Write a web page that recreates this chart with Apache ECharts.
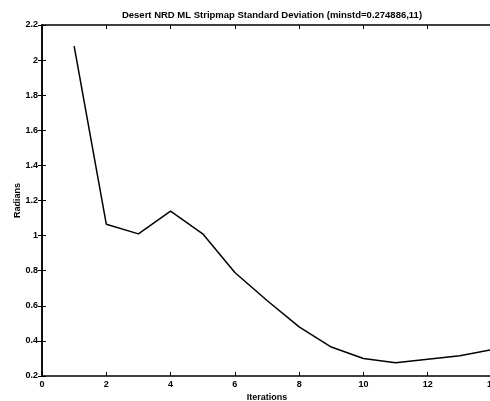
<!DOCTYPE html>
<html><head><meta charset="utf-8">
<script src="https://cdn.jsdelivr.net/npm/echarts@6/dist/echarts.min.js"></script>
<style>html,body{margin:0;padding:0;background:#fff}#c{width:490px;height:401px}</style>
</head><body><div id="c"></div>
<script>
const iterations = [1,2,3,4,5,6,7,8,9,10,11,12,13,14];
const stdRadians = [2.08,1.065,1.01,1.14,1.01,0.79,0.63,0.48,0.365,0.30,0.275,0.295,0.315,0.35];
const xTicks = [0,2,4,6,8,10,12,14];
const yTicks = [0.2,0.4,0.6,0.8,1,1.2,1.4,1.6,1.8,2,2.2];
const titleText = 'Desert NRD ML Stripmap Standard Deviation (minstd=0.274886,11)';

const font = 'Liberation Sans, Arial, sans-serif';
const chart = echarts.init(document.getElementById('c'));
const axisLine = {show:true, lineStyle:{color:'#000', width:1.5}};
chart.setOption({
  animation:false,
  backgroundColor:'#fff',
  title:{text:titleText, left:267, top:5, textAlign:'center',
    textStyle:{fontFamily:font, fontSize:9.5, fontWeight:'bold', color:'#000'}},
  grid:{left:42, right:-2, top:25, bottom:25, outerBoundsMode:'none', containLabel:false},
  xAxis:[{type:'value', min:0, max:14, interval:2, position:'bottom',
    axisLine, axisTick:{inside:true, length:4, lineStyle:{color:'#000'}},
    splitLine:{show:false},
    axisLabel:{fontFamily:font, fontSize:9, fontWeight:'bold', color:'#000', margin:4,
      formatter:v=>xTicks.includes(v)?String(v):''},
    name:'Iterations', nameLocation:'middle', nameGap:17, nameMoveOverlap:false,
    nameTextStyle:{fontFamily:font, fontSize:9, fontWeight:'bold', color:'#000'}},
   {type:'value', min:0, max:14, interval:2, position:'top',
    axisLine, axisTick:{inside:true, length:4, lineStyle:{color:'#000'}},
    axisLabel:{show:false}, splitLine:{show:false}}],
  yAxis:[{type:'value', min:0.2, max:2.2, interval:0.2, position:'left',
    axisLine, axisTick:{inside:true, length:4, lineStyle:{color:'#000'}},
    splitLine:{show:false},
    axisLabel:{fontFamily:font, fontSize:9, fontWeight:'bold', color:'#000', margin:4,
      formatter:v=>{const r=Math.round(v*10)/10; return String(r);}},
    name:'Radians', nameLocation:'middle', nameGap:20, nameMoveOverlap:false,
    nameTextStyle:{fontFamily:font, fontSize:9, fontWeight:'bold', color:'#000'}},
   {type:'value', min:0.2, max:2.2, interval:0.2, position:'right',
    axisLine, axisTick:{inside:true, length:4, lineStyle:{color:'#000'}},
    axisLabel:{show:false}, splitLine:{show:false}}],
  series:[{type:'line', data:iterations.map((x,i)=>[x,stdRadians[i]]),
    showSymbol:false, lineStyle:{color:'#000', width:1.5}}]
});
</script></body></html>
